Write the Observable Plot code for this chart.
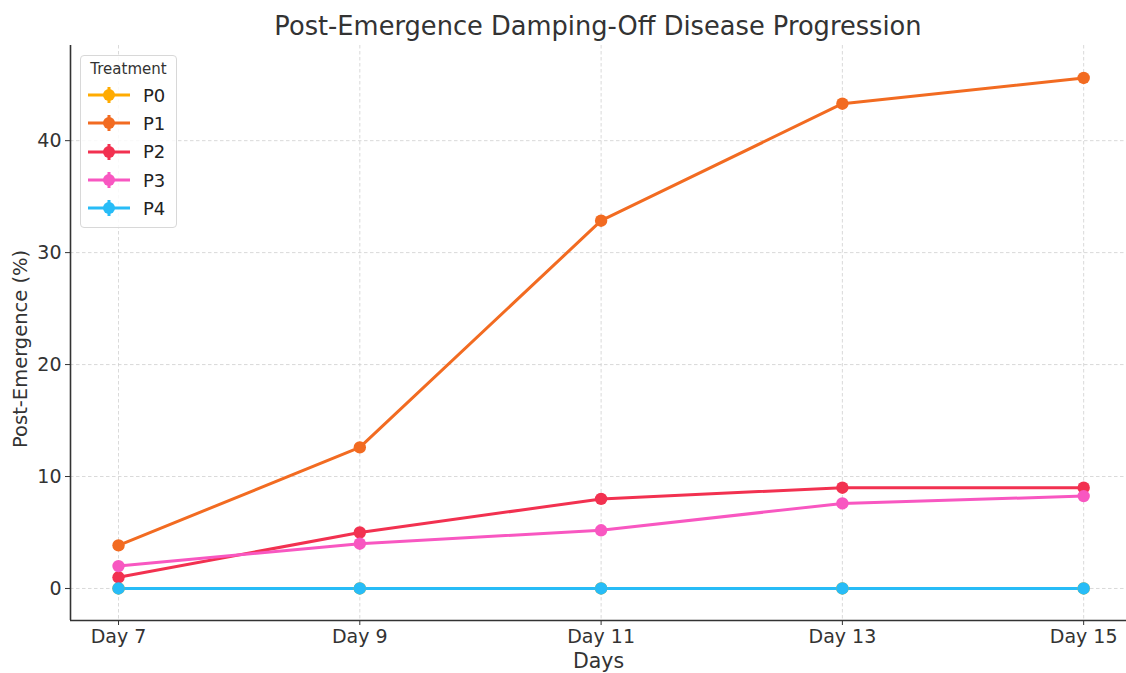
<!DOCTYPE html>
<html>
<head>
<meta charset="utf-8">
<script src="https://cdn.jsdelivr.net/npm/d3@7"></script>
<script src="https://cdn.jsdelivr.net/npm/@observablehq/plot@0.6"></script>
<style>
  html, body { margin: 0; padding: 0; background: #fff; }
  body { width: 1126px; height: 673px; overflow: hidden; position: relative; font-family: "DejaVu Sans", sans-serif; }
  #title { height: 43px; width: 1056px; margin-left: 70px; text-align: center; font-size: 25.7px; color: #333; line-height: 52px; white-space: nowrap; }
  #legend { position: absolute; left: 80px; top: 55px; width: 97px; height: 173px; border: 1px solid #d8d8d8; border-radius: 4px; background: rgba(255,255,255,0.85); box-sizing: border-box; }
  #legend .lt { font-size: 15px; color: #333; text-align: center; margin-top: 4px; height: 21px; }
  #legend .row { height: 28.3px; display: flex; align-items: center; }
  #legend .row span { font-size: 18px; color: #222; margin-left: 6px; }
</style>
</head>
<body>
<div id="title">Post-Emergence Damping-Off Disease Progression</div>
<div id="chart"></div>
<div id="legend"><div class="lt">Treatment</div></div>
<script>
const days = [7, 9, 11, 13, 15];
const dayLabels = ["Day 7", "Day 9", "Day 11", "Day 13", "Day 15"];
const treatments = ["P0", "P1", "P2", "P3", "P4"];
const colors = ["#ffab00", "#f26b21", "#f23150", "#f857c1", "#27bcf7"];
const P0 = [0, 0, 0, 0, 0];
const P1 = [3.85, 12.6, 32.85, 43.3, 45.6];
const P2 = [1.0, 5.0, 8.0, 9.0, 9.0];
const P3 = [2.0, 4.0, 5.2, 7.6, 8.25];
const P4 = [0, 0, 0, 0, 0];
const series = [P0, P1, P2, P3, P4];
const yTicks = [0, 10, 20, 30, 40];

const data = [];
treatments.forEach((t, i) => {
  series[i].forEach((v, j) => data.push({treatment: t, day: days[j], value: v}));
});

const yMin = -2.86, yMax = 48.5;
const xMin = 6.602, xMax = 15.355;

const plot = Plot.plot({
  width: 1126,
  height: 630,
  marginTop: 2,
  marginLeft: 70,
  marginRight: 0,
  marginBottom: 53,
  style: {fontFamily: "DejaVu Sans, sans-serif", color: "#333", background: "#fff"},
  x: {domain: [xMin, xMax]},
  y: {domain: [yMin, yMax]},
  color: {domain: treatments, range: colors},
  marks: [
    Plot.gridX(days, {stroke: "#cfcfcf", strokeOpacity: 1, strokeWidth: 0.8, strokeDasharray: "3.5,2.5"}),
    Plot.gridY(yTicks, {stroke: "#cfcfcf", strokeOpacity: 1, strokeWidth: 0.8, strokeDasharray: "3.5,2.5"}),
    Plot.axisX(days, {tickFormat: d => dayLabels[days.indexOf(d)], tickSize: 5, tickPadding: 4, fontSize: 19, fill: "#333", stroke: "#333", label: null}),
    Plot.axisY(yTicks, {tickSize: 5, tickPadding: 4, fontSize: 19, fill: "#333", stroke: "#333", label: null}),
    Plot.ruleY([yMin], {stroke: "#333", strokeWidth: 1.6}),
    Plot.ruleX([xMin], {stroke: "#333", strokeWidth: 1.6}),
    Plot.line(data, {x: "day", y: "value", z: "treatment", stroke: "treatment", strokeWidth: 3}),
    Plot.dot(data, {x: "day", y: "value", fill: "treatment", r: 6.2, stroke: null}),
    Plot.text(["Days"], {frameAnchor: "bottom", dy: 47, fontSize: 20.5, fill: "#333", x: (xMin + xMax) / 2}),
    Plot.text(["Post-Emergence (%)"], {frameAnchor: "left", textAnchor: "middle", dx: -50, rotate: -90, fontSize: 19.5, fill: "#333", y: 21.4})
  ]
});
document.getElementById("chart").appendChild(plot);

const legend = document.getElementById("legend");
treatments.forEach((t, i) => {
  const row = document.createElement("div");
  row.className = "row";
  row.innerHTML = `<svg width="50" height="20" style="margin-left:6px"><line x1="1" y1="10" x2="43" y2="10" stroke="${colors[i]}" stroke-width="3"/><line x1="22" y1="2" x2="22" y2="18" stroke="${colors[i]}" stroke-width="3"/><circle cx="22" cy="10" r="6" fill="${colors[i]}"/></svg><span>${t}</span>`;
  legend.appendChild(row);
});
</script>
</body>
</html>
